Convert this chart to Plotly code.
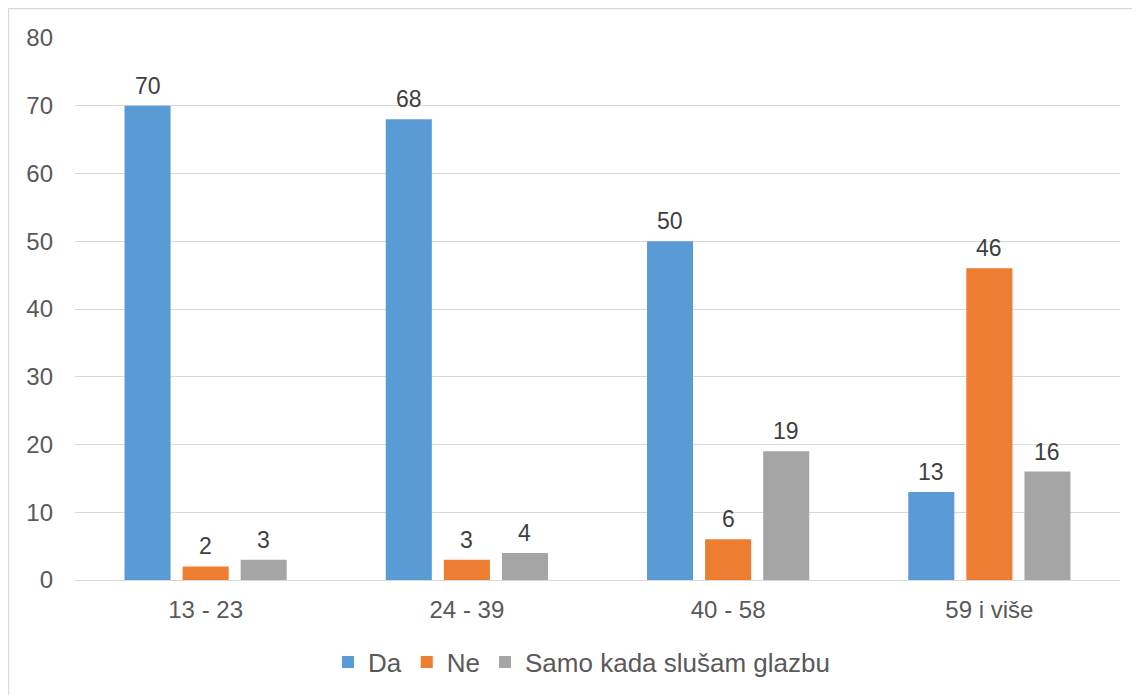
import plotly.graph_objects as go

categories = ["13 - 23", "24 - 39", "40 - 58", "59 i više"]
da = [70, 68, 50, 13]
ne = [2, 3, 6, 46]
samo = [3, 4, 19, 16]

series = [
    ("Da", da, "#5B9BD5"),
    ("Ne", ne, "#ED7D31"),
    ("Samo kada slušam glazbu", samo, "#A5A5A5"),
]

# page has an 8px body margin, so plot area in figure coords: x 67..1112, y 30..572
L, R, T, B = 67, 28, 30, 123
W, H = 1140 - L - R, 695 - T - B
SLOT = 58  # px between bar centres inside a group

fig = go.Figure()
annotations = []
for i, (name, vals, color) in enumerate(series):
    fig.add_trace(go.Bar(
        x=categories, y=vals, name=name,
        marker=dict(color=color, line=dict(width=0)),
    ))
    for cat, v in zip(categories, vals):
        annotations.append(dict(
            x=cat, y=v, xref="x", yref="y", text=str(v), showarrow=False,
            yanchor="bottom", yshift=5, xshift=(i - 1) * SLOT,
            font=dict(size=23, color="#404040"),
        ))

fig.update_layout(
    width=1140, height=695,
    margin=dict(l=L, r=R, t=T, b=B),
    paper_bgcolor="white", plot_bgcolor="white",
    font=dict(family="Liberation Sans, Arial, sans-serif", size=24, color="#595959"),
    barmode="group", bargap=0.333, bargroupgap=0.207,
    legend=dict(orientation="h", x=0.5 - 16 / W, xanchor="center", y=-(654 - 572) / H,
                yanchor="middle", font=dict(size=26, color="#595959"), traceorder="normal"),
    annotations=annotations,
    shapes=[dict(type="rect", xref="paper", yref="paper",
                 x0=-(L - 0.5) / W, x1=1 + (R + 10) / W,
                 y0=-(B + 10) / H, y1=1 + (T - 0.5) / H,
                 line=dict(color="#D9D9D9", width=1.3), fillcolor="rgba(0,0,0,0)")],
)
fig.update_xaxes(showline=True, linecolor="#D9D9D9", linewidth=1.3, ticks="",
                 tickfont=dict(size=24, color="#595959"), ticklabelstandoff=8)
fig.update_yaxes(range=[0, 80], dtick=10, showgrid=True, gridcolor="#D9D9D9", gridwidth=1.3,
                 zeroline=False, showline=False, ticks="",
                 tickfont=dict(size=24, color="#595959"), ticklabelstandoff=21)

fig.write_html("out.html")
